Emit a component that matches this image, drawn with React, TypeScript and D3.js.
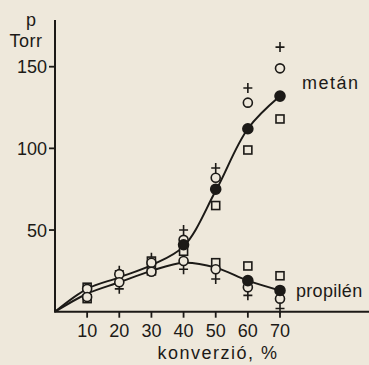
import React, { useEffect, useRef } from 'react';
import * as d3 from 'd3';

// conversion, %
const conversions = [10, 20, 30, 40, 50, 60, 70];
const yTicks = [50, 100, 150];

// fitted curves (drawn through the filled points)
const curveX = [0, 10, 20, 30, 40, 50, 60, 70];
const metanCurve = [0, 14, 21, 28.5, 40, 74, 112, 132];
const propilenCurve = [0, 11, 18, 25, 30, 27, 19, 13];

// measured points: metán
const metanFilledX = [40, 50, 60, 70];
const metanFilled = [41, 75, 112, 132];
const metanOpenX = [10, 20, 30, 40, 50, 60, 70];
const metanOpen = [14, 23, 30, 44, 82, 128, 149];
const metanSquareX = [10, 30, 40, 50, 60, 70];
const metanSquare = [15, 31, 37, 65, 99, 118];
const metanPlusX = [20, 30, 40, 50, 60, 70];
const metanPlus = [25, 33, 50, 88, 137, 162];

// measured points: propilén
const propFilledX = [60, 70];
const propFilled = [19, 13];
const propOpenX = [10, 20, 30, 40, 50, 60, 70];
const propOpen = [9, 18, 24.5, 31, 26, 15, 8];
const propSquareX = [10, 30, 50, 60, 70];
const propSquare = [8, 25, 30, 28, 22];
const propPlusX = [20, 30, 40, 50, 60, 70];
const propPlus = [14, 27, 26, 20, 10, 2];

const ink = '#1c1a17';
const paper = '#eee8db';
const font = '"Liberation Sans", Arial, sans-serif';

const App = () => {
    const ref = useRef<SVGSVGElement | null>(null);

    useEffect(() => {
        const svg = d3.select(ref.current);
        svg.selectAll('*').remove();

        const W = 369, H = 365;
        const x = d3.scaleLinear().domain([0, 70]).range([55, 280]);
        const y = d3.scaleLinear().domain([0, 150]).range([311.7, 66.7]);

        svg.append('rect').attr('width', W).attr('height', H).attr('fill', paper);

        // axes
        svg.append('line')
            .attr('x1', x(0)).attr('x2', x(0))
            .attr('y1', 20).attr('y2', y(0))
            .attr('stroke', ink).attr('stroke-width', 2);
        svg.append('line')
            .attr('x1', x(0) - 1).attr('x2', W)
            .attr('y1', y(0)).attr('y2', y(0))
            .attr('stroke', ink).attr('stroke-width', 2);

        yTicks.forEach(t => {
            svg.append('line')
                .attr('x1', x(0) - 6).attr('x2', x(0))
                .attr('y1', y(t)).attr('y2', y(t))
                .attr('stroke', ink).attr('stroke-width', 1.8);
            svg.append('text')
                .attr('x', x(0) - 8).attr('y', y(t) + 6.5)
                .attr('text-anchor', 'end')
                .attr('font-size', 18).attr('font-family', font).attr('fill', ink)
                .text(t);
        });

        conversions.forEach(t => {
            svg.append('line')
                .attr('x1', x(t)).attr('x2', x(t))
                .attr('y1', y(0)).attr('y2', y(0) + 6)
                .attr('stroke', ink).attr('stroke-width', 1.8);
            svg.append('text')
                .attr('x', x(t)).attr('y', 337)
                .attr('text-anchor', 'middle')
                .attr('font-size', 18).attr('font-family', font).attr('fill', ink)
                .text(t);
        });

        const label = (txt: string, lx: number, ly: number, anchor = 'start', spacing = 1.5) =>
            svg.append('text')
                .attr('x', lx).attr('y', ly)
                .attr('text-anchor', anchor)
                .attr('font-size', 18).attr('font-family', font).attr('fill', ink)
                .attr('letter-spacing', spacing)
                .text(txt);

        label('p', 31, 26, 'middle', 0);
        label('Torr', 26, 46.5, 'middle', 0.5);
        label('metán', 302, 89);
        label('propilén', 296, 297, 'start', 0.3);
        label('konverzió, %', 218, 359, 'middle', 1.5);

        // curves
        const line = d3.line<[number, number]>()
            .x(d => x(d[0]))
            .y(d => y(d[1]))
            .curve(d3.curveCatmullRom.alpha(0.5));

        [metanCurve, propilenCurve].forEach(vals => {
            svg.append('path')
                .datum(curveX.map((c, i) => [c, vals[i]] as [number, number]))
                .attr('fill', 'none')
                .attr('stroke', ink)
                .attr('stroke-width', 2)
                .attr('d', line);
        });

        const g = svg.append('g');

        const squares = (xs: number[], ys: number[]) => {
            g.selectAll(null).data(xs).enter().append('rect')
                .attr('x', (d) => x(d) - 4)
                .attr('y', (d, i) => y(ys[i]) - 4)
                .attr('width', 8).attr('height', 8)
                .attr('fill', paper).attr('stroke', ink).attr('stroke-width', 1.6);
        };
        const pluses = (xs: number[], ys: number[]) => {
            xs.forEach((d, i) => {
                const cx = x(d), cy = y(ys[i]);
                g.append('path')
                    .attr('d', `M${cx - 4.5},${cy}H${cx + 4.5}M${cx},${cy - 5}V${cy + 5}`)
                    .attr('stroke', ink).attr('stroke-width', 1.6);
            });
        };
        const circles = (xs: number[], ys: number[], filled: boolean) => {
            g.selectAll(null).data(xs).enter().append('circle')
                .attr('cx', d => x(d))
                .attr('cy', (d, i) => y(ys[i]))
                .attr('r', filled ? 5 : 4.5)
                .attr('fill', filled ? ink : paper)
                .attr('stroke', ink).attr('stroke-width', 1.6);
        };

        pluses(metanPlusX, metanPlus);
        pluses(propPlusX, propPlus);
        squares(metanSquareX, metanSquare);
        squares(propSquareX, propSquare);
        circles(metanOpenX, metanOpen, false);
        circles(propOpenX, propOpen, false);
        circles(metanFilledX, metanFilled, true);
        circles(propFilledX, propFilled, true);
    }, []);

    return (
        <div style={{ position: 'fixed', left: 0, top: 0 }}>
            <svg ref={ref} width={369} height={365} style={{ display: 'block' }} />
        </div>
    );
};

export default App;
